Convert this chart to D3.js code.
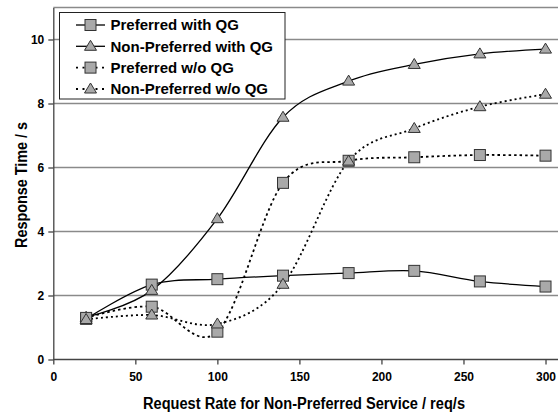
<!DOCTYPE html>
<html><head><meta charset="utf-8">
<script src="https://cdn.jsdelivr.net/npm/d3@7"></script>
<style>html,body{margin:0;padding:0;background:#fff;}svg{display:block;font-family:"Liberation Sans",Arial,sans-serif;}</style>
</head><body>
<svg id="c" width="558" height="413"></svg>
<script>
const xValues = [20, 60, 100, 140, 180, 220, 260, 300];
const prefWithQG = [1.27, 2.34, 2.51, 2.62, 2.70, 2.77, 2.44, 2.28];
const nonPrefWithQG = [1.32, 2.16, 4.40, 7.57, 8.70, 9.22, 9.55, 9.70];
const prefWithoutQG = [1.30, 1.65, 0.87, 5.52, 6.21, 6.32, 6.39, 6.37];
const nonPrefWithoutQG = [1.25, 1.39, 1.11, 2.35, 6.20, 7.22, 7.90, 8.29];
const seriesNames = ["Preferred with QG", "Non-Preferred with QG", "Preferred w/o QG", "Non-Preferred w/o QG"];
const xTicks = [0, 50, 100, 150, 200, 250, 300];
const yTicks = [0, 2, 4, 6, 8, 10];
const xTitle = "Request Rate for Non-Preferred Service / req/s";
const yTitle = "Response Time / s";

const series = [
  {name: seriesNames[0], values: prefWithQG, marker: "square", dash: null},
  {name: seriesNames[1], values: nonPrefWithQG, marker: "triangle", dash: null},
  {name: seriesNames[2], values: prefWithoutQG, marker: "square", dash: "2.5,3"},
  {name: seriesNames[3], values: nonPrefWithoutQG, marker: "triangle", dash: "2,3"}
];

const svg = d3.select("#c");
const pLeft = 53.3, pRight = 557, pTop = 7.5, pBottom = 359.5;
const x = d3.scaleLinear().domain([0, 307]).range([pLeft, pRight]);
const y = d3.scaleLinear().domain([0, 11]).range([pBottom, pTop]);

// grid
svg.append("g").selectAll("line").data(yTicks.filter(d => d > 0).concat([11])).join("line")
  .attr("x1", pLeft).attr("x2", pRight + 5).attr("y1", d => y(d)).attr("y2", d => y(d))
  .attr("stroke", "#8a8a8a").attr("stroke-width", 1.4);

// axes
const xAxis = svg.append("g").attr("transform", `translate(0,${pBottom})`)
  .call(d3.axisBottom(x).tickValues(xTicks).tickSize(5).tickPadding(8).tickSizeOuter(0));
const yAxis = svg.append("g").attr("transform", `translate(${pLeft},0)`)
  .call(d3.axisLeft(y).tickValues(yTicks).tickSize(5).tickPadding(4).tickSizeOuter(0));
[xAxis, yAxis].forEach(a => {
  a.select(".domain").attr("stroke", "#444").attr("stroke-width", 1.3);
  a.selectAll(".tick line").attr("stroke", "#444").attr("stroke-width", 1.3);
  a.selectAll("text").attr("font-size", 12).attr("font-weight", "bold").attr("fill", "#000")
    .attr("font-family", "Liberation Sans, Arial, sans-serif");
});
xAxis.select(".domain").attr("d", `M${pLeft},0H${pRight + 5}`);

// lines
const line = d3.line().x((d, i) => x(xValues[i])).y(d => y(d)).curve(d3.curveCardinal.tension(0));
series.forEach(s => {
  svg.append("path").datum(s.values).attr("d", line)
    .attr("fill", "none").attr("stroke", "#000")
    .attr("stroke-width", s.dash ? 1.8 : 1.3)
    .attr("stroke-dasharray", s.dash);
});

function drawMarker(g, type, cx, cy) {
  if (type === "square") {
    g.append("rect").attr("x", cx - 5.5).attr("y", cy - 5.5).attr("width", 11).attr("height", 11)
      .attr("fill", "#a9a9a9").attr("stroke", "#333").attr("stroke-width", 1);
  } else {
    const h = 10, w = 12;
    g.append("path").attr("d", `M${cx},${cy - h * 0.6}L${cx + w / 2},${cy + h * 0.4}L${cx - w / 2},${cy + h * 0.4}Z`)
      .attr("fill", "#a9a9a9").attr("stroke", "#333").attr("stroke-width", 1);
  }
}
series.forEach(s => {
  const g = svg.append("g");
  s.values.forEach((v, i) => drawMarker(g, s.marker, x(xValues[i]), y(v)));
});

// legend
const lg = svg.append("g");
lg.append("rect").attr("x", 59.5).attr("y", 12.5).attr("width", 225.5).attr("height", 86.5)
  .attr("fill", "#fff").attr("stroke", "#222").attr("stroke-width", 1);
const rowY = [25, 46.3, 67.6, 89];
series.forEach((s, i) => {
  const yy = rowY[i];
  lg.append("line").attr("x1", 76).attr("x2", 105).attr("y1", yy).attr("y2", yy)
    .attr("stroke", "#000").attr("stroke-width", s.dash ? 1.8 : 1.3).attr("stroke-dasharray", s.dash ? "2,4.5" : null);
  drawMarker(lg, s.marker, 90.5, yy);
  lg.append("text").attr("x", 110.5).attr("y", yy).attr("dy", "0.36em")
    .attr("font-size", 15).attr("font-weight", "bold").text(s.name);
});

// titles
svg.append("text").attr("x", 304).attr("y", 408.5).attr("text-anchor", "middle")
  .attr("font-size", 16).attr("font-weight", "bold")
  .attr("textLength", 322).attr("lengthAdjust", "spacingAndGlyphs").text(xTitle);
svg.append("text").attr("transform", "translate(26.5,185) rotate(-90)").attr("text-anchor", "middle")
  .attr("font-size", 16).attr("font-weight", "bold")
  .attr("textLength", 126).attr("lengthAdjust", "spacingAndGlyphs").text(yTitle);
</script>
</body></html>
